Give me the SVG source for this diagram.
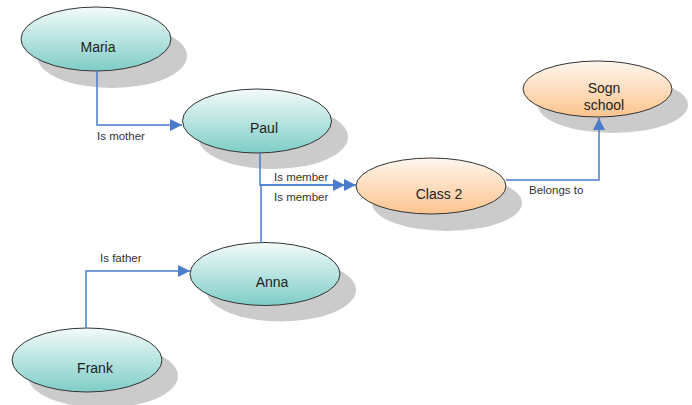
<svg xmlns="http://www.w3.org/2000/svg" width="692" height="405" viewBox="0 0 692 405">
<defs>
<linearGradient id="teal" x1="0" y1="0" x2="0" y2="1">
<stop offset="0" stop-color="#f2fbfa"/>
<stop offset="1" stop-color="#7fcdc7"/>
</linearGradient>
<linearGradient id="orange" x1="0" y1="0" x2="0" y2="1">
<stop offset="0" stop-color="#fff6ee"/>
<stop offset="1" stop-color="#fcc48e"/>
</linearGradient>
<marker id="arr" viewBox="0 0 10 10" refX="10" refY="5" markerWidth="14" markerHeight="12" markerUnits="userSpaceOnUse" orient="auto">
<path d="M0,0 L10,5 L0,10 Z" fill="#4a7ccb"/>
</marker>
</defs>
<style>
.sh{fill:#cbcbcb}
.nd{stroke:#333;stroke-width:1}
.t{font-family:"Liberation Sans",Arial,sans-serif;font-size:14px;fill:#222;text-anchor:middle}
.l{font-family:"Liberation Sans",Arial,sans-serif;font-size:11.5px;fill:#333}
.c{fill:none;stroke:#4a7ccb;stroke-width:1.5}
</style>
<g id="maria">
<ellipse class="sh" cx="112" cy="56" rx="75" ry="32"/>
<ellipse class="nd" cx="96" cy="39" rx="75" ry="32" fill="url(#teal)"/>
<text class="t" x="98" y="52">Maria</text>
</g>
<g id="paul">
<ellipse class="sh" cx="273" cy="137" rx="75" ry="32"/>
<ellipse class="nd" cx="257" cy="121" rx="74.5" ry="32" fill="url(#teal)"/>
<text class="t" x="264" y="133">Paul</text>
</g>
<g id="class2">
<ellipse class="sh" cx="447" cy="203" rx="75" ry="28"/>
<ellipse class="nd" cx="431" cy="186" rx="75" ry="28" fill="url(#orange)"/>
<text class="t" x="439" y="199">Class 2</text>
</g>
<g id="sogn">
<ellipse class="sh" cx="613" cy="105" rx="75" ry="28"/>
<ellipse class="nd" cx="597.5" cy="89" rx="74.5" ry="28" fill="url(#orange)"/>
<text class="t" x="604" y="93">Sogn</text>
<text class="t" x="604" y="110">school</text>
</g>
<g id="anna">
<ellipse class="sh" cx="281" cy="290" rx="75" ry="31.5"/>
<ellipse class="nd" cx="265" cy="274" rx="75" ry="31.5" fill="url(#teal)"/>
<text class="t" x="272" y="287">Anna</text>
</g>
<g id="frank">
<ellipse class="sh" cx="103" cy="376" rx="75" ry="32"/>
<ellipse class="nd" cx="87" cy="360" rx="75" ry="32" fill="url(#teal)"/>
<text class="t" x="95" y="373">Frank</text>
</g>
<g id="connectors">
<path class="c" d="M97,71 V125 H182" marker-end="url(#arr)"/>
<path class="c" d="M260,153 V185 H345" marker-end="url(#arr)"/>
<path class="c" d="M261,243 V185 H356" marker-end="url(#arr)"/>
<path class="c" d="M506,180 H599 V118" marker-end="url(#arr)"/>
<path class="c" d="M86,328 V271 H190" marker-end="url(#arr)"/>
<text class="l" x="97" y="140">Is mother</text>
<text class="l" x="274" y="181">Is member</text>
<text class="l" x="274" y="201">Is member</text>
<text class="l" x="529" y="194">Belongs to</text>
<text class="l" x="100" y="262">Is father</text>
</g>
</svg>
